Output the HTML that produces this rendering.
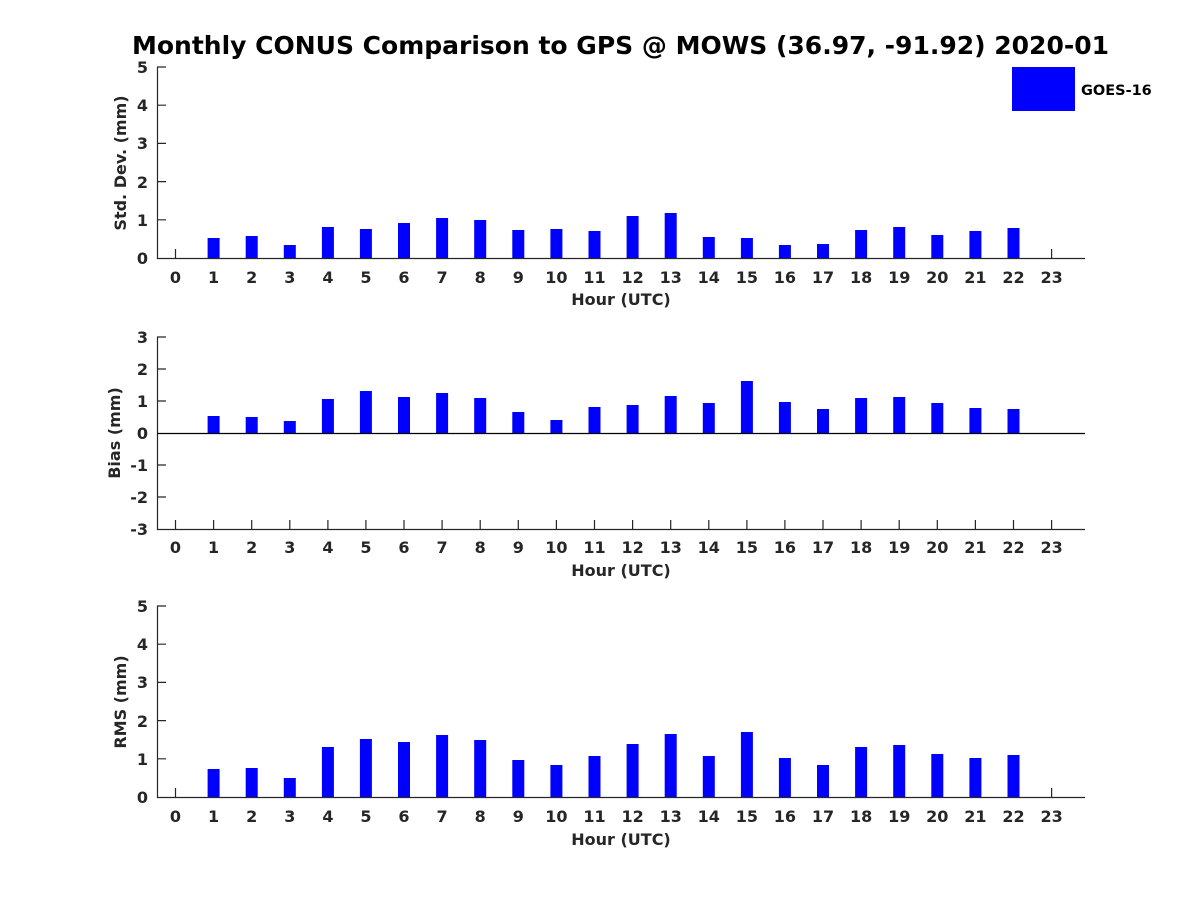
<!DOCTYPE html>
<html><head><meta charset="utf-8"><style>body{margin:0;background:#fff}svg{display:block}</style></head><body>
<svg width="1200" height="900" xmlns="http://www.w3.org/2000/svg" font-family="DejaVu Sans, Liberation Sans, sans-serif" font-weight="bold">
<rect width="1200" height="900" fill="#fff"/>
<text x="620.5" y="54" text-anchor="middle" font-size="25" fill="#000">Monthly CONUS Comparison to GPS @ MOWS (36.97, -91.92) 2020-01</text>
<rect x="1012" y="67" width="63" height="44" fill="#0000ff"/>
<text x="1081" y="95" font-size="14.5" fill="#000">GOES-16</text>

<!-- Panel 1 -->
<g fill="#0000ff">
<rect x="207.6" y="238" width="12" height="20"/><rect x="245.7" y="236" width="12" height="22"/><rect x="283.8" y="245" width="12" height="13"/><rect x="321.9" y="227" width="12" height="31"/><rect x="359.9" y="229" width="12" height="29"/><rect x="398" y="223" width="12" height="35"/><rect x="436.1" y="218" width="12" height="40"/><rect x="474.2" y="220" width="12" height="38"/><rect x="512.3" y="230" width="12" height="28"/><rect x="550.4" y="229" width="12" height="29"/><rect x="588.5" y="231" width="12" height="27"/><rect x="626.6" y="216" width="12" height="42"/><rect x="664.7" y="213" width="12" height="45"/><rect x="702.8" y="237" width="12" height="21"/><rect x="740.9" y="238" width="12" height="20"/><rect x="778.9" y="245" width="12" height="13"/><rect x="817" y="244" width="12" height="14"/><rect x="855.1" y="230" width="12" height="28"/><rect x="893.2" y="227" width="12" height="31"/><rect x="931.3" y="235" width="12" height="23"/><rect x="969.4" y="231" width="12" height="27"/><rect x="1007.5" y="228" width="12" height="30"/>
</g>
<g stroke="#262626" stroke-width="1.2" fill="none">
<path d="M157.5 67V258.5H1085"/>
<path d="M157 67h9M157 105.2h9M157 143.4h9M157 181.6h9M157 219.8h9"/>
<path d="M175.5 258v-9M1051.6 258v-9"/>
</g>
<g font-size="16" fill="#262626" text-anchor="end">
<text x="148" y="73">5</text><text x="148" y="111">4</text><text x="148" y="149">3</text><text x="148" y="188">2</text><text x="148" y="226">1</text><text x="148" y="264">0</text>
</g>
<g font-size="16" fill="#262626" text-anchor="middle">
<text x="175.5" y="283">0</text><text x="213.6" y="283">1</text><text x="251.7" y="283">2</text><text x="289.8" y="283">3</text><text x="327.9" y="283">4</text><text x="365.9" y="283">5</text><text x="404" y="283">6</text><text x="442.1" y="283">7</text><text x="480.2" y="283">8</text><text x="518.3" y="283">9</text><text x="556.4" y="283">10</text><text x="594.5" y="283">11</text><text x="632.6" y="283">12</text><text x="670.7" y="283">13</text><text x="708.8" y="283">14</text><text x="746.9" y="283">15</text><text x="784.9" y="283">16</text><text x="823" y="283">17</text><text x="861.1" y="283">18</text><text x="899.2" y="283">19</text><text x="937.3" y="283">20</text><text x="975.4" y="283">21</text><text x="1013.5" y="283">22</text><text x="1051.6" y="283">23</text>
<text x="621" y="305">Hour (UTC)</text>
<text transform="translate(126 163) rotate(-90)">Std. Dev. (mm)</text>
</g>

<!-- Panel 2 -->
<g fill="#0000ff">
<rect x="207.6" y="416" width="12" height="17"/><rect x="245.7" y="417" width="12" height="16"/><rect x="283.8" y="421" width="12" height="12"/><rect x="321.9" y="399" width="12" height="34"/><rect x="359.9" y="391" width="12" height="42"/><rect x="398" y="397" width="12" height="36"/><rect x="436.1" y="393" width="12" height="40"/><rect x="474.2" y="398" width="12" height="35"/><rect x="512.3" y="412" width="12" height="21"/><rect x="550.4" y="420" width="12" height="13"/><rect x="588.5" y="407" width="12" height="26"/><rect x="626.6" y="405" width="12" height="28"/><rect x="664.7" y="396" width="12" height="37"/><rect x="702.8" y="403" width="12" height="30"/><rect x="740.9" y="381" width="12" height="52"/><rect x="778.9" y="402" width="12" height="31"/><rect x="817" y="409" width="12" height="24"/><rect x="855.1" y="398" width="12" height="35"/><rect x="893.2" y="397" width="12" height="36"/><rect x="931.3" y="403" width="12" height="30"/><rect x="969.4" y="408" width="12" height="25"/><rect x="1007.5" y="409" width="12" height="24"/>
</g>
<g stroke="#262626" stroke-width="1.2" fill="none">
<path d="M157.5 337V529.5H1085"/>
<path d="M157 433.5H1085" stroke="#000"/>
<path d="M157 337h9M157 369h9M157 401h9M157 465h9M157 497h9"/>
<path d="M175.5 529v-9M213.6 529v-9M251.7 529v-9M289.8 529v-9M327.9 529v-9M365.9 529v-9M404 529v-9M442.1 529v-9M480.2 529v-9M518.3 529v-9M556.4 529v-9M594.5 529v-9M632.6 529v-9M670.7 529v-9M708.8 529v-9M746.9 529v-9M784.9 529v-9M823 529v-9M861.1 529v-9M899.2 529v-9M937.3 529v-9M975.4 529v-9M1013.5 529v-9M1051.6 529v-9"/>
</g>
<g font-size="16" fill="#262626" text-anchor="end">
<text x="148" y="343">3</text><text x="148" y="375">2</text><text x="148" y="407">1</text><text x="148" y="439">0</text><text x="148" y="471">-1</text><text x="148" y="503">-2</text><text x="148" y="535">-3</text>
</g>
<g font-size="16" fill="#262626" text-anchor="middle">
<text x="175.5" y="553">0</text><text x="213.6" y="553">1</text><text x="251.7" y="553">2</text><text x="289.8" y="553">3</text><text x="327.9" y="553">4</text><text x="365.9" y="553">5</text><text x="404" y="553">6</text><text x="442.1" y="553">7</text><text x="480.2" y="553">8</text><text x="518.3" y="553">9</text><text x="556.4" y="553">10</text><text x="594.5" y="553">11</text><text x="632.6" y="553">12</text><text x="670.7" y="553">13</text><text x="708.8" y="553">14</text><text x="746.9" y="553">15</text><text x="784.9" y="553">16</text><text x="823" y="553">17</text><text x="861.1" y="553">18</text><text x="899.2" y="553">19</text><text x="937.3" y="553">20</text><text x="975.4" y="553">21</text><text x="1013.5" y="553">22</text><text x="1051.6" y="553">23</text>
<text x="621" y="576">Hour (UTC)</text>
<text transform="translate(120 433) rotate(-90)">Bias (mm)</text>
</g>

<!-- Panel 3 -->
<g fill="#0000ff">
<rect x="207.6" y="769" width="12" height="28"/><rect x="245.7" y="768" width="12" height="29"/><rect x="283.8" y="778" width="12" height="19"/><rect x="321.9" y="747" width="12" height="50"/><rect x="359.9" y="739" width="12" height="58"/><rect x="398" y="742" width="12" height="55"/><rect x="436.1" y="735" width="12" height="62"/><rect x="474.2" y="740" width="12" height="57"/><rect x="512.3" y="760" width="12" height="37"/><rect x="550.4" y="765" width="12" height="32"/><rect x="588.5" y="756" width="12" height="41"/><rect x="626.6" y="744" width="12" height="53"/><rect x="664.7" y="734" width="12" height="63"/><rect x="702.8" y="756" width="12" height="41"/><rect x="740.9" y="732" width="12" height="65"/><rect x="778.9" y="758" width="12" height="39"/><rect x="817" y="765" width="12" height="32"/><rect x="855.1" y="747" width="12" height="50"/><rect x="893.2" y="745" width="12" height="52"/><rect x="931.3" y="754" width="12" height="43"/><rect x="969.4" y="758" width="12" height="39"/><rect x="1007.5" y="755" width="12" height="42"/>
</g>
<g stroke="#262626" stroke-width="1.2" fill="none">
<path d="M157.5 606V797.5H1085"/>
<path d="M157 606h9M157 644.2h9M157 682.4h9M157 720.6h9M157 758.8h9"/>
<path d="M175.5 797v-9M1051.6 797v-9"/>
</g>
<g font-size="16" fill="#262626" text-anchor="end">
<text x="148" y="612">5</text><text x="148" y="650">4</text><text x="148" y="688">3</text><text x="148" y="727">2</text><text x="148" y="765">1</text><text x="148" y="803">0</text>
</g>
<g font-size="16" fill="#262626" text-anchor="middle">
<text x="175.5" y="822">0</text><text x="213.6" y="822">1</text><text x="251.7" y="822">2</text><text x="289.8" y="822">3</text><text x="327.9" y="822">4</text><text x="365.9" y="822">5</text><text x="404" y="822">6</text><text x="442.1" y="822">7</text><text x="480.2" y="822">8</text><text x="518.3" y="822">9</text><text x="556.4" y="822">10</text><text x="594.5" y="822">11</text><text x="632.6" y="822">12</text><text x="670.7" y="822">13</text><text x="708.8" y="822">14</text><text x="746.9" y="822">15</text><text x="784.9" y="822">16</text><text x="823" y="822">17</text><text x="861.1" y="822">18</text><text x="899.2" y="822">19</text><text x="937.3" y="822">20</text><text x="975.4" y="822">21</text><text x="1013.5" y="822">22</text><text x="1051.6" y="822">23</text>
<text x="621" y="845">Hour (UTC)</text>
<text transform="translate(126 702) rotate(-90)">RMS (mm)</text>
</g>
</svg>
</body></html>
